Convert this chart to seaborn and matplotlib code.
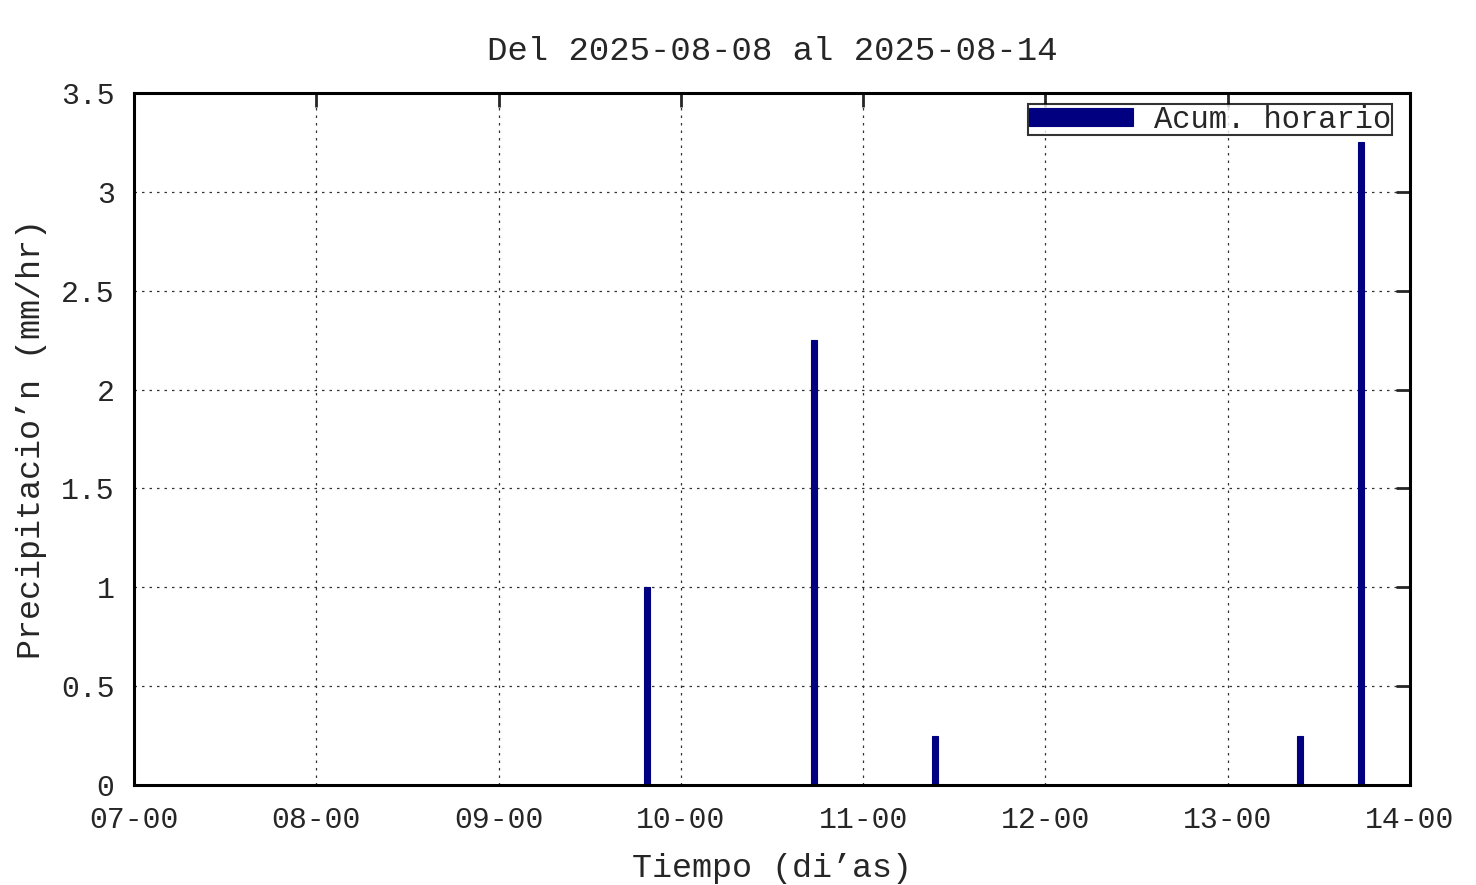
import numpy as np
import pandas as pd
import seaborn as sns
import matplotlib.pyplot as plt

# hours since 2025-08-07 00:00 and hourly rain (mm/hr)
horas = [67.5, 89.5, 105.5, 153.5, 161.5]
lluvia = [1.0, 2.25, 0.25, 0.25, 3.25]
dias = ["07-00", "08-00", "09-00", "10-00", "11-00", "12-00", "13-00", "14-00"]
yticks = [0, 0.5, 1, 1.5, 2, 2.5, 3, 3.5]

df = pd.DataFrame({"hora": horas, "lluvia": lluvia})

sns.set_style("white")
plt.rcParams['font.family'] = ['Liberation Mono', 'DejaVu Sans Mono']

fig = plt.figure(figsize=(14.76, 8.85), dpi=100)
ax = fig.add_axes([134/1476, 1-785/885, (1410-134)/1476, (785-93)/885])

sns.barplot(data=df, x="hora", y="lluvia", native_scale=True, width=0.1,
            color="#000080", edgecolor="#000080", linewidth=0.8,
            saturation=1, label="Acum. horario", ax=ax, zorder=3)

ax.set_xlim(0, 168)
ax.set_ylim(0, 3.5)
ax.set_xticks(np.arange(len(dias)) * 24)
ax.set_xticklabels(dias)
ax.set_yticks(yticks)
ax.set_yticklabels([f"{v:g}" for v in yticks])

ax.grid(True, linestyle=(0, (2, 4)), color="#333333", linewidth=0.9, zorder=0)
for s in ax.spines.values():
    s.set_linewidth(2.2)
    s.set_color("black")
    s.set_zorder(4)
ax.tick_params(direction="in", length=10, width=2, labelsize=21.5,
               top=True, right=True)
ax.tick_params(axis="x", pad=15)
ax.tick_params(axis="y", pad=14)

ax.set_title("Del 2025-08-08 al 2025-08-14", fontsize=24.5, pad=24)
ax.set_xlabel("Tiempo (di’as)", fontsize=24, labelpad=14)
ax.set_ylabel("Precipitacio’n (mm/hr)", fontsize=24, labelpad=10)

leg = ax.legend(loc="upper right", bbox_to_anchor=(0.986, 0.984), fontsize=22,
                frameon=True, fancybox=False,
                handlelength=3.4, handleheight=0.5, borderpad=0.02,
                borderaxespad=0.0, handletextpad=0.7)
leg.get_frame().set_edgecolor("black")
leg.get_frame().set_linewidth(1.5)

fig.savefig("out.png", dpi=100)
